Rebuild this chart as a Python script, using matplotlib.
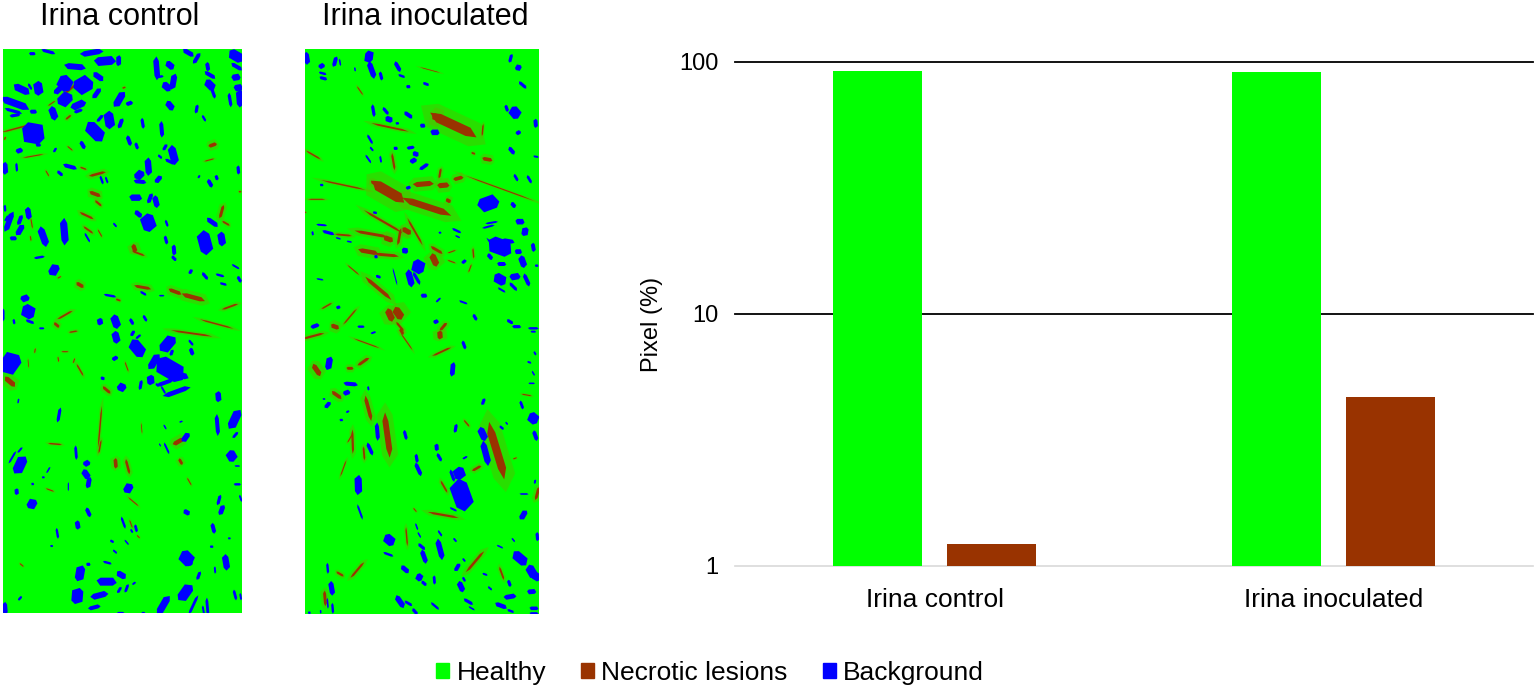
import numpy as np
import matplotlib
matplotlib.use("Agg")
import matplotlib.pyplot as plt
from matplotlib.collections import PolyCollection
from matplotlib.patches import Patch

plt.rcParams['font.family'] = ['Liberation Sans', 'DejaVu Sans']

categories = ["Irina control", "Irina inoculated"]
healthy = [92, 91]
necrotic = [1.22, 4.7]
legend_labels = ["Healthy", "Necrotic lesions", "Background"]
GREEN, BROWN, BLUE = "#00ff00", "#993300", "#0000ff"

# Shards: (x, y, length, width, angle), in 3x crop pixels.
c_top_blue = [(275,38,65,14,-10),(145,35,40,8,15),(97,41,18,8,0),(315,63,60,22,-5),(356,62,30,12,-90),(225,80,60,15,5),(470,85,65,14,85),(510,76,28,16,40),(565,38,35,12,30),(590,55,35,10,-60),(708,48,45,25,30),(710,80,35,10,30),(623,80,25,10,80),(630,105,35,10,30),(630,135,35,20,45),(640,160,30,8,70),(708,112,25,16,-10),(715,143,25,16,-10),(720,175,50,18,85),(690,180,40,8,80),(520,125,45,15,-80),(500,140,30,18,40),(510,197,30,16,50),(480,110,20,6,-10),(590,207,25,8,-80),(612,235,20,6,60),(250,135,55,40,-30),(195,130,45,35,45),(175,150,30,14,-45),(195,178,45,30,-45),(235,195,45,18,-25),(235,213,25,8,-20),(295,110,35,14,35),(290,160,35,12,-55),(358,178,50,18,-60),(388,190,20,10,-20),(115,145,40,22,80),(65,148,50,18,25),(90,140,20,6,60),(45,190,85,18,20),(40,213,50,8,15),(45,226,30,8,-10),(100,215,20,10,0),(160,220,40,18,70),(328,240,50,24,80),(285,275,65,32,45),(300,235,25,8,-50),(362,250,30,10,-70),(100,280,65,50,10),(58,332,20,12,-20),(115,315,15,8,0),(165,330,15,6,-60),(248,315,25,10,60),(428,250,30,8,80),(485,268,45,10,85),(387,302,30,10,70),(410,318,20,8,70),(520,345,55,20,75),(495,322,20,8,-60),(445,380,50,16,85),(418,405,30,20,-45),(420,425,35,10,5),(475,418,25,12,-50),(510,365,30,8,25),(480,350,15,6,40),(210,380,40,10,15),(180,400,20,8,40),(15,385,35,14,85),(50,382,25,6,85),(305,420,25,6,70),(320,420,20,5,70),(630,430,25,10,60),(650,413,15,8,70),(597,410,10,5,-60),(715,390,25,8,85),(407,473,35,16,0),(450,475,30,10,-70),(468,485,35,14,75),(415,522,25,12,40),(445,548,50,34,70),(500,550,20,6,70),(498,600,25,8,75),(637,547,38,12,35),(615,608,68,32,75),(665,597,40,18,80),(522,630,30,10,85),(522,655,18,8,45),(85,520,35,14,80),(27,545,60,14,-70),(60,540,30,10,-70),(60,570,35,14,-60),(40,595,20,10,0),(20,535,20,6,-60),(130,590,58,18,70),(193,575,75,18,85),(262,593,30,5,60),(345,555,15,5,50),(15,505,20,6,85),(118,652,30,6,-10),(162,690,35,22,-60),(572,695,15,8,-60),(615,708,25,8,50),(660,706,25,6,15),(670,732,20,6,15),(718,718,20,8,60),(707,680,25,5,30),(430,760,20,6,30),(330,767,35,6,10),(75,775,25,16,-20),(85,815,40,32,30),(90,845,25,7,20),(347,845,40,20,70),(300,845,20,14,80),(395,845,20,8,60),(435,835,20,7,60),(42,845,15,6,80),(10,825,35,6,90),(125,865,15,5,0),(485,767,15,4,0)]
c_top_brown = [(210,148,70,6,-40),(155,190,25,3,-35),(205,232,20,5,-40),(50,265,90,4,-15),(15,295,10,4,-70),(100,348,60,3,-10),(292,402,50,7,-15),(142,400,20,3,60),(285,462,35,10,20),(295,490,25,6,40),(260,527,45,6,25),(265,570,35,5,35),(300,580,25,3,60),(92,595,15,3,80),(403,625,25,12,70),(415,640,40,5,20),(428,742,50,8,10),(525,755,40,10,20),(580,772,70,12,15),(690,800,50,5,-20),(195,825,50,5,-30),(650,852,100,4,15),(170,855,20,8,40),(240,735,25,10,30),(355,780,15,5,20),(638,315,25,10,-20),(628,360,30,3,-15),(665,515,40,8,-75),(678,550,25,5,30),(95,550,30,3,80),(250,385,20,4,20),(210,325,20,3,40),(178,712,12,3,-30),(720,455,8,4,0),(372,143,10,4,-20)]
c_bot_blue = [(30,100,65,45,-55),(348,22,35,18,75),(398,10,18,8,-60),(415,20,18,6,-40),(412,55,55,30,50),(503,42,55,28,-50),(515,68,18,8,-70),(573,38,20,6,50),(575,65,22,10,70),(462,95,50,18,-60),(510,118,90,45,30),(540,135,50,15,15),(452,150,28,18,85),(495,158,50,10,-20),(530,185,80,12,-20),(490,180,25,5,60),(472,165,12,6,40),(365,172,25,20,-50),(422,165,28,8,-80),(345,85,18,10,-30),(308,145,12,8,20),(655,200,30,14,85),(704,268,60,22,-65),(652,285,60,10,85),(706,315,22,7,-50),(695,378,32,24,60),(712,408,15,4,0),(712,463,20,6,0),(657,510,30,8,-75),(665,540,30,12,-70),(722,505,20,5,70),(640,595,30,10,75),(688,625,8,5,0),(560,547,20,12,30),(560,685,45,32,45),(568,700,20,12,-20),(678,697,45,16,80),(596,737,25,8,-70),(645,720,20,5,85),(635,650,10,6,0),(556,788,55,26,-55),(580,825,60,7,-65),(490,825,60,18,-60),(622,830,50,7,85),(610,840,25,5,80),(705,795,30,7,75),(722,800,20,5,80),(320,755,55,20,0),(364,735,30,15,30),(322,698,25,6,15),(298,796,50,15,-15),(283,832,35,10,-15),(240,730,45,22,-80),(232,798,45,28,-85),(265,703,12,8,0),(358,780,20,7,-60),(380,775,25,7,-70),(402,760,12,5,-40),(362,848,20,4,0),(430,848,10,4,0),(15,835,35,12,85),(60,805,15,6,-50),(345,665,15,5,40),(336,634,12,6,30),(380,637,18,4,50),(370,578,35,6,70),(408,595,22,7,75),(395,603,12,5,60),(233,585,25,12,80),(265,547,28,10,65),(172,610,30,6,80),(155,648,8,5,0),(96,522,30,22,-60),(50,485,18,10,85),(98,462,8,6,0),(260,400,20,14,-30),(258,433,30,16,55),(266,458,32,12,-80),(385,475,30,20,-60),(60,405,55,26,-65),(37,382,40,5,-60),(60,360,20,5,-50),(228,368,40,7,85),(177,255,42,8,-80),(145,420,20,4,-60),(130,442,8,5,0),(205,470,25,3,90),(557,322,30,14,-55),(495,291,15,4,60),(500,355,35,5,65),(480,345,10,3,60),(543,275,10,4,-20),(55,213,14,4,-80)]
c_bot_brown = [(30,155,40,14,40),(575,10,120,5,8),(220,5,25,4,-10),(300,290,120,4,-85),(300,350,40,4,-80),(347,400,30,10,85),(383,410,45,7,75),(535,335,35,12,-30),(542,395,20,8,60),(400,515,40,3,40),(393,582,25,3,70),(415,620,12,3,45),(175,88,15,3,80),(222,92,15,3,-70),(240,120,40,4,60),(320,180,30,8,40),(380,110,30,3,70),(150,480,25,3,20),(568,455,25,3,60),(165,342,40,4,5),(65,705,15,3,40),(425,295,30,2,85),(105,62,14,3,-80),(85,100,25,2,85),(195,65,20,3,0)]
i_top_blue = [(20,55,35,14,80),(65,78,18,12,-30),(68,100,22,6,15),(70,115,22,8,15),(105,65,30,10,-75),(120,67,20,4,80),(207,50,25,28,20),(215,90,50,14,70),(293,80,32,10,60),(243,108,25,8,75),(305,108,20,6,20),(165,88,12,4,80),(325,140,12,8,0),(378,132,18,7,20),(632,55,25,8,-75),(655,83,18,14,-60),(668,135,28,8,40),(645,218,35,26,50),(620,205,20,8,70),(707,250,25,10,85),(655,278,15,10,-30),(635,332,25,10,50),(708,350,15,5,10),(648,413,22,7,60),(688,418,25,7,60),(220,212,35,8,80),(257,213,25,8,50),(325,225,28,10,35),(267,238,22,14,20),(292,250,10,6,0),(368,257,15,10,0),(405,277,25,14,0),(210,298,30,6,60),(215,327,15,5,50),(205,357,28,5,55),(242,358,20,5,80),(287,325,12,8,0),(332,323,22,8,-10),(347,342,18,12,20),(340,362,20,12,-30),(372,380,30,9,-35),(65,435,10,6,0),(325,443,14,8,-20),(65,555,30,5,5),(85,578,35,8,15),(38,580,12,5,80),(115,595,15,4,15),(148,605,15,4,10),(225,518,12,6,10),(315,632,18,14,10),(228,650,10,8,0),(565,490,60,35,-20),(575,548,35,5,-10),(565,560,35,5,-15),(660,545,25,14,0),(675,575,25,16,-80),(640,495,18,10,50),(600,620,70,40,20),(580,615,55,5,45),(625,603,35,10,10),(570,650,20,10,50),(605,672,25,10,0),(655,635,20,12,0),(668,665,35,16,70),(700,622,25,10,80),(600,718,38,25,30),(645,710,30,16,-10),(640,740,30,8,45),(680,720,38,10,65),(605,750,25,5,30),(710,677,10,6,0),(355,680,38,32,30),(330,715,50,16,75),(350,715,40,8,60),(372,767,18,10,0),(285,710,50,3,75),(235,710,15,7,20),(415,780,18,5,-45),(490,787,25,5,20),(492,665,15,8,-40),(525,832,20,8,60),(408,845,15,10,-20),(630,845,20,8,30),(650,860,25,8,0),(45,858,25,10,-20),(700,865,30,6,0),(115,802,12,8,-20),(183,860,20,6,0),(60,718,20,4,10),(470,572,28,6,25),(473,590,15,4,25),(420,578,8,5,0)]
i_top_brown = [(460,255,150,26,25),(410,232,30,18,20),(265,455,110,28,30),(225,432,30,8,35),(380,500,150,18,18),(370,432,60,14,-5),(430,436,35,14,-5),(475,415,30,10,-15),(420,400,30,6,-80),(250,545,130,6,30),(320,573,30,14,30),(215,582,100,8,10),(265,597,30,14,20),(298,590,50,7,-80),(345,575,90,5,60),(205,635,60,12,10),(260,645,70,8,5),(403,660,40,18,65),(410,630,40,8,30),(235,745,100,10,40),(160,690,45,3,40),(270,825,40,18,65),(295,820,40,22,55),(80,798,35,4,-30),(105,860,25,12,20),(300,860,35,6,50),(430,860,30,8,-50),(150,830,60,4,-50),(562,358,30,10,10),(548,270,35,4,-85),(520,340,12,5,20),(445,482,16,10,30),(600,445,210,3,20),(270,262,110,5,12),(130,435,130,4,12),(40,345,50,4,30),(130,585,50,5,5),(50,478,50,3,0),(15,517,8,3,0),(520,640,30,4,85),(510,685,25,3,-70),(455,635,25,3,-20),(455,665,25,3,20),(280,365,50,6,80),(180,152,30,3,55),(390,90,60,2,15)]
i_bot_blue = [(87,100,38,16,-80),(458,118,40,12,-85),(492,45,25,8,70),(152,162,40,10,5),(140,188,20,12,-20),(205,175,12,5,80),(83,225,22,10,-50),(72,207,8,4,0),(143,245,10,5,-30),(124,270,10,6,0),(232,305,50,10,85),(210,357,38,9,65),(316,315,28,8,75),(175,465,55,18,88),(180,546,45,5,70),(268,630,35,24,40),(265,673,30,6,20),(350,385,25,8,80),(355,418,40,10,65),(410,352,20,10,85),(418,382,25,8,60),(467,295,25,8,-80),(548,312,40,18,65),(557,370,70,16,75),(478,430,35,28,70),(457,437,35,8,70),(485,495,90,45,70),(460,538,22,5,25),(495,383,15,5,-30),(605,293,15,6,40),(620,280,10,4,50),(700,265,32,26,40),(706,317,30,10,70),(688,97,12,5,20),(705,70,12,5,60),(700,130,15,4,60),(695,160,18,4,0),(665,225,25,7,70),(550,215,20,8,-70),(670,555,30,14,-60),(672,492,25,4,0),(705,455,12,5,-80),(712,620,25,8,85),(660,685,50,24,40),(695,725,40,22,60),(710,740,25,20,30),(655,672,25,5,20),(600,650,20,4,25),(640,630,14,4,50),(350,590,20,4,70),(358,615,18,4,60),(420,658,60,14,75),(372,680,40,12,70),(365,650,25,8,40),(315,718,28,12,40),(358,742,20,18,40),(372,760,18,8,40),(403,750,25,7,85),(472,712,25,10,-60),(492,690,12,5,50),(492,748,15,6,60),(483,770,32,14,65),(555,733,15,5,20),(300,815,40,14,55),(325,820,25,7,30),(345,845,22,8,50),(405,828,30,6,40),(505,815,30,8,30),(515,835,20,4,30),(570,775,15,5,40),(630,800,35,12,-10),(695,785,25,12,-5),(603,827,35,11,20),(702,835,25,9,0),(702,850,25,6,0),(632,843,20,6,20),(95,775,40,13,80),(83,715,30,6,85),(98,835,30,6,85),(83,820,30,4,85),(62,845,10,4,85),(28,848,8,6,0),(628,760,20,8,70),(465,630,14,5,50),(420,610,20,5,55),(220,8,15,5,-20),(700,5,15,5,0)]
i_bot_brown = [(40,18,65,6,-15),(50,120,40,14,55),(150,115,20,8,0),(190,95,40,8,-35),(110,195,35,10,35),(205,235,75,10,75),(262,315,130,16,82),(158,335,70,6,88),(192,370,40,5,85),(425,65,60,5,-25),(200,40,80,3,20),(320,35,60,3,55),(420,15,25,14,85),(305,5,20,8,60),(590,362,170,22,73),(432,470,40,5,60),(712,490,40,8,-75),(680,195,30,3,10),(430,555,90,6,10),(320,620,55,4,85),(525,695,80,7,-50),(172,720,60,6,-50),(120,732,25,6,30),(75,805,45,8,85),(605,730,40,5,70),(530,415,30,7,-30),(345,540,15,3,50),(645,385,12,3,-20),(500,280,25,4,50),(150,325,30,3,-60),(130,415,50,3,-70)]

W, H = 1536, 691
fig = plt.figure(figsize=(W / 100, H / 100), dpi=100)


def add_px_axes(x0, y0, x1, y1):
    return fig.add_axes([x0 / W, 1 - y1 / H, (x1 - x0) / W, (y1 - y0) / H])


UNIT = np.array([(-.5, -.15), (-.32, .5), (.3, .5), (.5, .15), (.32, -.5), (-.3, -.5)])


def shard_polys(items, ox, oy, ls=1.0, ws=1.0):
    polys = []
    for x, y, l, w, a in items:
        t = np.radians(a)
        dx = UNIT[:, 0] * l * ls / 3
        dy = UNIT[:, 1] * w * ws / 3
        polys.append(np.c_[ox + x / 3 + dx * np.cos(t) - dy * np.sin(t),
                           oy + y / 3 + dx * np.sin(t) + dy * np.cos(t)])
    return polys


def panel(box, title, title_x, top_origin, bot_origin, blue_t, brown_t, blue_b, brown_b):
    ax = add_px_axes(*box)
    ax.set_xlim(box[0], box[2])
    ax.set_ylim(box[3], box[1])
    ax.axis("off")
    ax.add_patch(plt.Rectangle((box[0], box[1]), box[2] - box[0], box[3] - box[1], color=GREEN, lw=0))
    browns = shard_polys(brown_t, *top_origin, 1.05, 1.1) + shard_polys(brown_b, *bot_origin, 1.05, 1.1)
    halos = shard_polys(brown_t, *top_origin, 1.5, 3.0) + shard_polys(brown_b, *bot_origin, 1.5, 3.0)
    blues = shard_polys(blue_t, *top_origin, 1.1, 1.2) + shard_polys(blue_b, *bot_origin, 1.1, 1.2)
    ax.add_collection(PolyCollection(halos, facecolors="#66b000", edgecolors="none", alpha=0.4))
    ax.add_collection(PolyCollection(browns, facecolors=BROWN, edgecolors="none"))
    ax.add_collection(PolyCollection(blues, facecolors=BLUE, edgecolors="none"))
    fig.text(title_x / W, 1 - 17 / H, title, ha="center", va="center", fontsize=22, color="black")


panel((3, 49, 242, 613), categories[0], 119.5, (0, 40), (0, 330),
      c_top_blue, c_top_brown, c_bot_blue, c_bot_brown)
panel((305, 49, 539, 614), categories[1], 425, (300, 40), (300, 330),
      i_top_blue, i_top_brown, i_bot_blue, i_bot_brown)

# Bar chart
ax = add_px_axes(735, 62, 1533, 566)
x = np.arange(len(categories))
bw, gap = 0.223, 0.062
ax.bar(x - (bw + gap) / 2, healthy, bw, color=GREEN, zorder=3)
ax.bar(x + (bw + gap) / 2, necrotic, bw, color=BROWN, zorder=3)
ax.set_yscale("log")
ax.set_ylim(1, 100)
ax.set_xlim(-0.5, 1.5)
ax.set_yticks([1, 10, 100], ["1", "10", "100"])
ax.minorticks_off()
ax.set_xticks(x, categories)
ax.tick_params(axis="both", length=0, labelcolor="black")
ax.tick_params(axis="x", pad=16, labelsize=19)
ax.tick_params(axis="y", pad=12, labelsize=17)
for s in ("top", "left", "right"):
    ax.spines[s].set_visible(False)
ax.spines["bottom"].set_color("#d9d9d9")
ax.spines["bottom"].set_linewidth(1.2)
for v in (10, 100):
    ax.axhline(v, color="black", lw=1.3, zorder=1, clip_on=False)
ax.set_ylabel("Pixel (%)", fontsize=17, va="center")
ax.yaxis.set_label_coords((652 - 735) / 798, 0.48)

handles = [Patch(color=GREEN), Patch(color=BROWN), Patch(color=BLUE)]
fig.legend(handles, legend_labels, loc="center", bbox_to_anchor=(710 / W, 1 - 673 / H), ncol=3,
           frameon=False, fontsize=19, handlelength=0.49, handleheight=0.49,
           handletextpad=0.27, columnspacing=1.33, borderpad=0, borderaxespad=0)

fig.savefig("out.png", dpi=100)
